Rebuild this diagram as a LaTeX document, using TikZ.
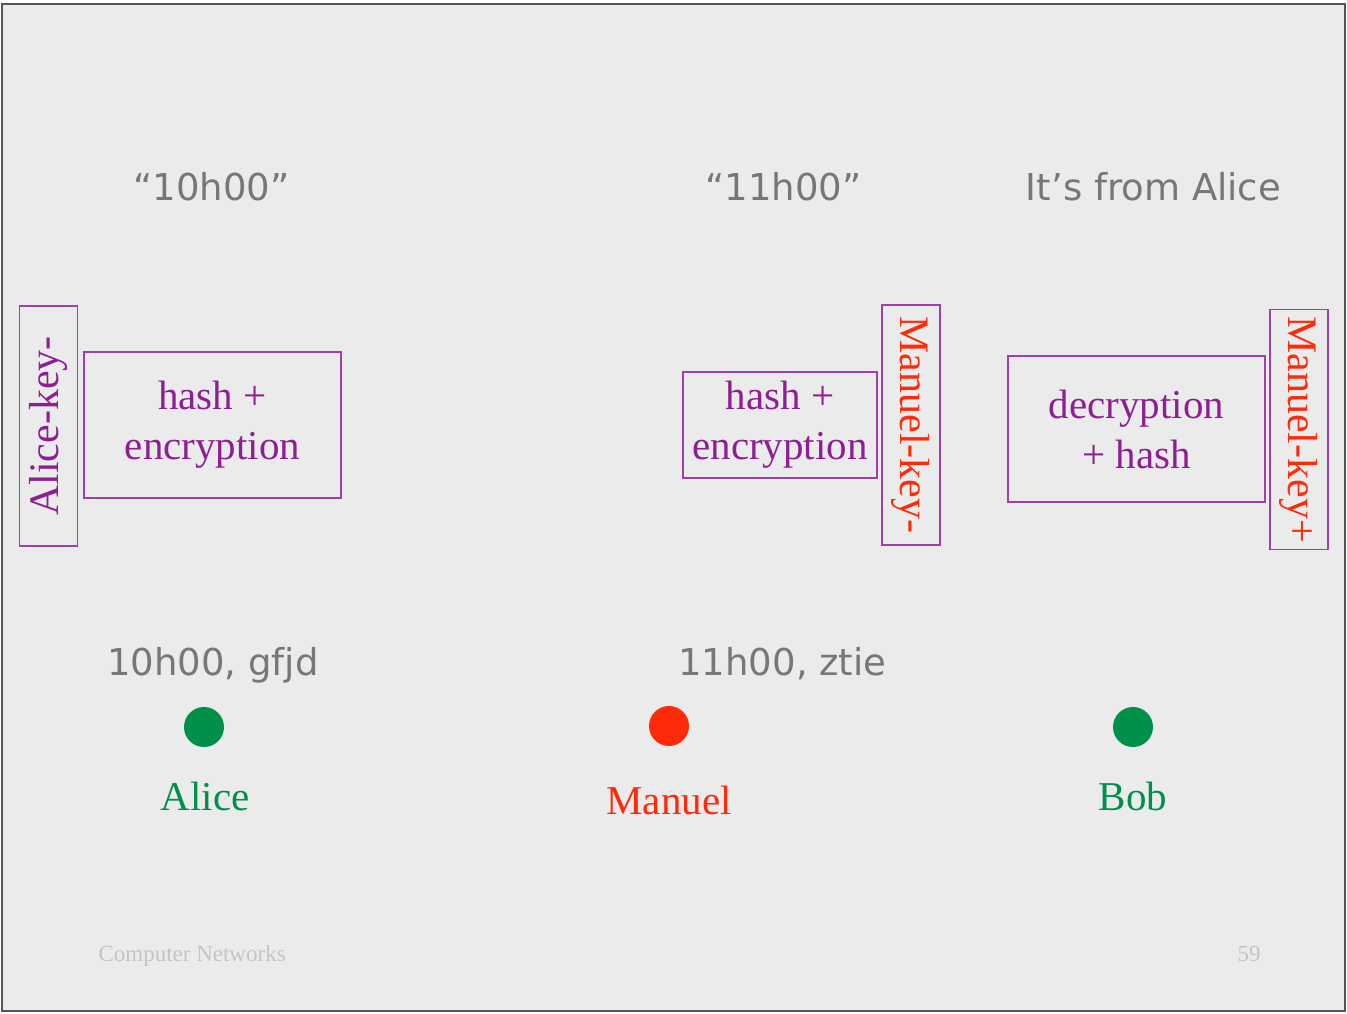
\documentclass[tikz,border=0pt]{standalone}
\usepackage{fontspec}
\setmainfont{Liberation Serif}
\newfontfamily\handfont{DejaVu Sans}
\usetikzlibrary{positioning}
\definecolor{slidebg}{HTML}{EBEBEB}
\definecolor{framegrey}{HTML}{555555}
\definecolor{boxline}{HTML}{A23DAA}
\definecolor{opviolet}{HTML}{8E1F93}
\definecolor{keyred}{HTML}{FF2A0A}
\definecolor{partygreen}{HTML}{00904A}
\definecolor{msggrey}{HTML}{777777}
\definecolor{footgrey}{HTML}{C4C4C4}

\begin{document}
\begin{tikzpicture}[
    x=1pt, y=-1pt,
    every node/.style={align=center},
    opbox/.style={
        draw=boxline,
        line width=1.2pt,
        text=opviolet,
        inner sep=0pt,
        font=\fontsize{41}{50}\selectfont
    },
    keybox/.style={
        draw=boxline,
        line width=1.2pt,
        inner sep=0pt,
        minimum width=240pt,
        minimum height=58pt,
        font=\fontsize{42}{48}\selectfont
    },
    msg/.style={
        anchor=base,
        text=msggrey,
        font=\handfont\fontsize{37}{44}\selectfont
    },
    party/.style={
        circle,
        minimum size=40pt,
        inner sep=0pt
    },
    partyname/.style={
        anchor=base,
        font=\fontsize{41}{48}\selectfont
    },
    foot/.style={
        anchor=base west,
        text=footgrey,
        font=\fontsize{23}{26}\selectfont
    }
]

\useasboundingbox (0,0) rectangle (1347,1013);
\fill[white] (0,0) rectangle (1347,1013);
\filldraw[fill=slidebg, draw=framegrey, line width=1.2pt] (2,4) rectangle (1345,1011);

% messages
\node[msg] (plainA) at (211.5,200) {“10h00”};
\node[msg] (plainM) at (783.5,200) {“11h00”};
\node[msg] (verdict) at (1153.5,200) {It’s from Alice};

% signing and checking
\node[keybox, rotate=90, text=opviolet] (keyA) at (48.5,426) {Alice-key-};
\node[opbox, minimum width=257pt, minimum height=146pt] (signA) at (212.5,425) {hash +\\encryption};

\node[opbox, minimum width=194pt, minimum height=106pt] (signM) at (780,425) {hash +\\encryption};
\node[keybox, rotate=-90, text=keyred] (keyMpriv) at (911,425) {Manuel-key-};

\node[opbox, minimum width=257pt, minimum height=146pt] (check) at (1136.5,429) {decryption\\+ hash};
\node[keybox, rotate=-90, text=keyred] (keyMpub) at (1299,429.5) {Manuel-key+};

% signed messages
\node[msg] (sentA) at (213,675) {10h00, gfjd};
\node[msg] (sentM) at (782.5,675) {11h00, ztie};

% parties
\node[party, fill=partygreen] (alice) at (204,727) {};
\node[party, fill=keyred] (manuel) at (669,726) {};
\node[party, fill=partygreen] (bob) at (1133,727) {};

\node[partyname, text=partygreen] (aliceName) at (205,810) {Alice};
\node[partyname, text=keyred] (manuelName) at (669,814) {Manuel};
\node[partyname, text=partygreen] (bobName) at (1133,810) {Bob};

\node[foot] (course) at (95,961) {Computer Networks};
\node[foot] (page) at (1234,961) {59};

\end{tikzpicture}
\end{document}
